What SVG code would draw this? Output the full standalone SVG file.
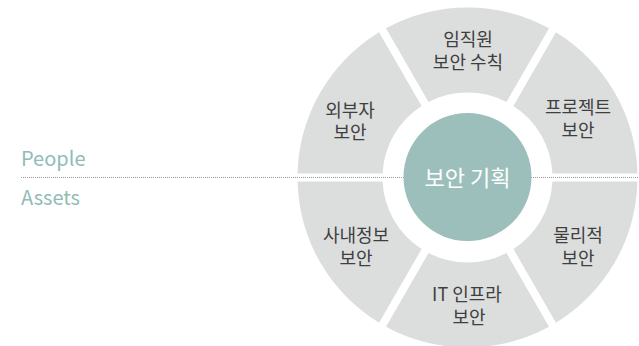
<svg xmlns="http://www.w3.org/2000/svg" xmlns:xlink="http://www.w3.org/1999/xlink" width="639" height="346" viewBox="0 0 639 346">
  <style>
    .seg { fill: #dcdddd; }
    .lbl { font-family: "Noto Sans CJK KR", "Noto Sans", sans-serif; font-size: 18px; fill: #3f3f3f; text-anchor: middle; }
    .side { font-family: "Noto Sans CJK KR", "Noto Sans", sans-serif; font-size: 20px; fill: #8fbcb7; }
    .core { font-family: "Noto Sans CJK KR", "Noto Sans", sans-serif; font-size: 22px; fill: #ffffff; text-anchor: middle; }
  </style>
  <defs>
    <path id="sector" d="M 169.95 -4 A 170 170 0 0 0 88.42 -145.19 L 45.92 -71.53 A 85 85 0 0 1 84.906 -4 Z"/>
  </defs>
  <rect width="639" height="346" fill="#ffffff"/>
  <g id="segments" transform="translate(467.5,177.5)">
    <g id="seg-project"><use xlink:href="#sector" href="#sector" class="seg"/></g>
    <g id="seg-employee"><use xlink:href="#sector" href="#sector" class="seg" transform="rotate(-60)"/></g>
    <g id="seg-external"><use xlink:href="#sector" href="#sector" class="seg" transform="rotate(-120)"/></g>
    <g id="seg-internal"><use xlink:href="#sector" href="#sector" class="seg" transform="rotate(-180)"/></g>
    <g id="seg-it"><use xlink:href="#sector" href="#sector" class="seg" transform="rotate(-240)"/></g>
    <g id="seg-physical"><use xlink:href="#sector" href="#sector" class="seg" transform="rotate(-300)"/></g>
  </g>
  <g id="connectors">
    <line x1="21" y1="177.5" x2="639" y2="177.5" stroke="#9a9a9a" stroke-width="1" stroke-dasharray="1 1"/>
  </g>
  <g id="center">
    <circle cx="467.5" cy="177" r="64" fill="#9cbfbc"/>
    <text class="core" x="467.5" y="186">보안 기획</text>
  </g>
  <g id="label-employee">
    <text class="lbl" x="468" y="46">임직원</text>
    <text class="lbl" x="468" y="69">보안 수칙</text>
  </g>
  <g id="label-external">
    <text class="lbl" x="350" y="117">외부자</text>
    <text class="lbl" x="350" y="139">보안</text>
  </g>
  <g id="label-project">
    <text class="lbl" x="578" y="114">프로젝트</text>
    <text class="lbl" x="578" y="137">보안</text>
  </g>
  <g id="label-internal">
    <text class="lbl" x="356" y="242">사내정보</text>
    <text class="lbl" x="356" y="265">보안</text>
  </g>
  <g id="label-physical">
    <text class="lbl" x="578" y="242">물리적</text>
    <text class="lbl" x="578" y="265">보안</text>
  </g>
  <g id="label-it">
    <text class="lbl" x="467" y="301">IT 인프라</text>
    <text class="lbl" x="469" y="324">보안</text>
  </g>
  <g id="side-labels">
    <text class="side" x="21" y="166">People</text>
    <text class="side" x="21" y="205">Assets</text>
  </g>
</svg>
